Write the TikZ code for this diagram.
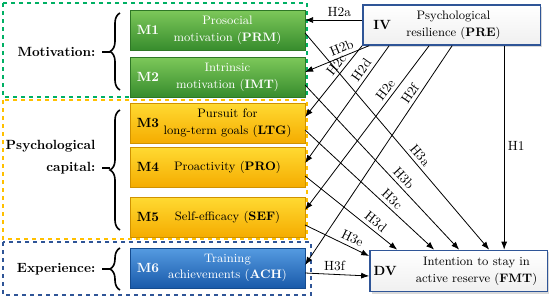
\documentclass[tikz,border=0pt]{standalone}
\usetikzlibrary{calc,shadows,arrows.meta,decorations.pathreplacing}
\definecolor{gtop}{RGB}{125,200,90}
\definecolor{gbot}{RGB}{55,140,45}
\definecolor{ytop}{RGB}{255,218,50}
\definecolor{ybot}{RGB}{245,172,0}
\definecolor{btop}{RGB}{85,155,225}
\definecolor{bbot}{RGB}{25,90,170}
\definecolor{fgreen}{RGB}{0,176,100}
\definecolor{fyellow}{RGB}{255,192,0}
\definecolor{fblue}{RGB}{47,85,151}
\begin{document}
\begin{tikzpicture}[x=0.75pt,y=-0.75pt,>={Latex[length=6pt,width=4.5pt]}]
\tikzstyle{mbox}=[minimum width=131pt,minimum height=30pt,inner sep=0pt,drop shadow={shadow xshift=1pt,shadow yshift=-1pt,opacity=0.35}]
\tikzstyle{vbox}=[draw=fblue,line width=1pt,top color=white,bottom color=black!6,minimum width=133pt,minimum height=30pt,inner sep=0pt,drop shadow={shadow xshift=1.5pt,shadow yshift=-1.5pt,opacity=0.3}]
\tikzstyle{boxtext}=[align=center,font=\fontsize{9.2}{12.5}\selectfont]
\tikzstyle{frame}=[dashed,line width=0.9pt]
\tikzstyle{hyp}=[->,line width=0.6pt]
\tikzstyle{hlab}=[inner sep=2.5pt]
\tikzstyle{bracket}=[decorate,decoration={brace,amplitude=7.5pt},line width=1.2pt]
\useasboundingbox (0,0) rectangle (550,298);
% dashed groups
\draw[frame,fgreen] (3,3) rectangle (307,97);
\draw[frame,fyellow] (3,100) rectangle (307,239);
\draw[frame,fblue] (3,242) rectangle (311,295);
% mediators
\foreach \n/\y/\ct/\cb/\tc/\txt in {1/30/gtop/gbot/white/{Prosocial\\motivation (\textbf{PRM})},
  2/77/gtop/gbot/white/{Intrinsic\\motivation (\textbf{IMT})},
  3/123/ytop/ybot/black/{Pursuit for\\long-term goals (\textbf{LTG})},
  4/167/ytop/ybot/black/{Proactivity (\textbf{PRO})},
  5/217/ytop/ybot/black/{Self-efficacy (\textbf{SEF})},
  6/268/btop/bbot/white/{Training\\achievements (\textbf{ACH})}}{
\path (217.5,\y) node[mbox,top color=\ct,bottom color=\cb,draw=\cb!85!black] (m\n) {};
\path (m\n.west)+(18,0) node[text=\tc,font=\bfseries] (lab\n) {M\n};
\path (m\n.center)+(10,0) node[text=\tc,boxtext] (txt\n) {\txt};
}
% group labels
\path (100,52) node[anchor=east,font=\bfseries] (motlab) {Motivation:};
\path (100,157) node[anchor=east,align=right,font=\bfseries] (caplab) {Psychological\\[4pt]capital:};
\path (100,269) node[anchor=east,font=\bfseries] (explab) {Experience:};
\draw[bracket] (120,90) -- (120,13);
\draw[bracket] (120,230) -- (120,110);
\draw[bracket] (120,290) -- (120,248);
\draw[line width=1.2pt] (motlab.east)+(2,0) -- +(10,0);
\draw[line width=1.2pt] (102,168) -- (110,168);
\draw[line width=1.2pt] (explab.east)+(2,0) -- +(10,0);
% IV and DV
\path (451.5,25) node[vbox] (iv) {};
\path (iv.west)+(20,0) node[font=\bfseries] (ivlab) {IV};
\path (iv.center)+(2,0) node[boxtext] (ivtxt) {Psychological\\resilience (\textbf{PRE})};
\path (458.5,271) node[vbox,minimum height=31pt] (dv) {};
\path (dv.west)+(16,0) node[font=\bfseries] (dvlab) {DV};
\path (dv.center)+(18,0) node[boxtext] (dvtxt) {Intention to stay in\\active reserve (\textbf{FMT})};
% H1 and H2
\draw[hyp] ($(iv.south west)+(142,0)$) -- node[pos=0.49,right,hlab] {H1} ($(dv.north west)+(135,0)$);
\draw[hyp] ($(iv.west)+(0,-5)$) -- node[pos=0.4,above,hlab] {H2a} ($(m1.east)+(0,-10)$);
\foreach \s/\m/\dy/\p/\l in {7/2/-5/0.38/H2b, 0/3/-6/0.34/H2c, 27/4/-4/0.25/H2d, 67/5/-7/0.3/H2e, 90/6/-3/0.24/H2f}{
\draw[hyp] ($(iv.south west)+(\s,0)$) -- node[pos=\p,sloped,above,hlab] {\l} ($(m\m.east)+(0,\dy)$);
}
% H3
\foreach \m/\dy/\e/\p/\l in {1/3/120/0.59/H3a, 2/8/90/0.6/H3b, 3/7/65/0.63/H3c, 4/9/28/0.71/H3d}{
\draw[hyp] ($(m\m.east)+(0,\dy)$) -- node[pos=\p,sloped,above,hlab] {\l} ($(dv.north west)+(\e,0)$);
}
\draw[hyp] ($(m5.east)+(0,8)$) -- node[pos=0.68,sloped,above,hlab] {H3e} ($(dv.west)+(0,-15)$);
\draw[hyp] ($(m6.east)+(0,5)$) -- node[pos=0.46,above,hlab] {H3f} ($(dv.west)+(0,5)$);
\end{tikzpicture}
\end{document}
